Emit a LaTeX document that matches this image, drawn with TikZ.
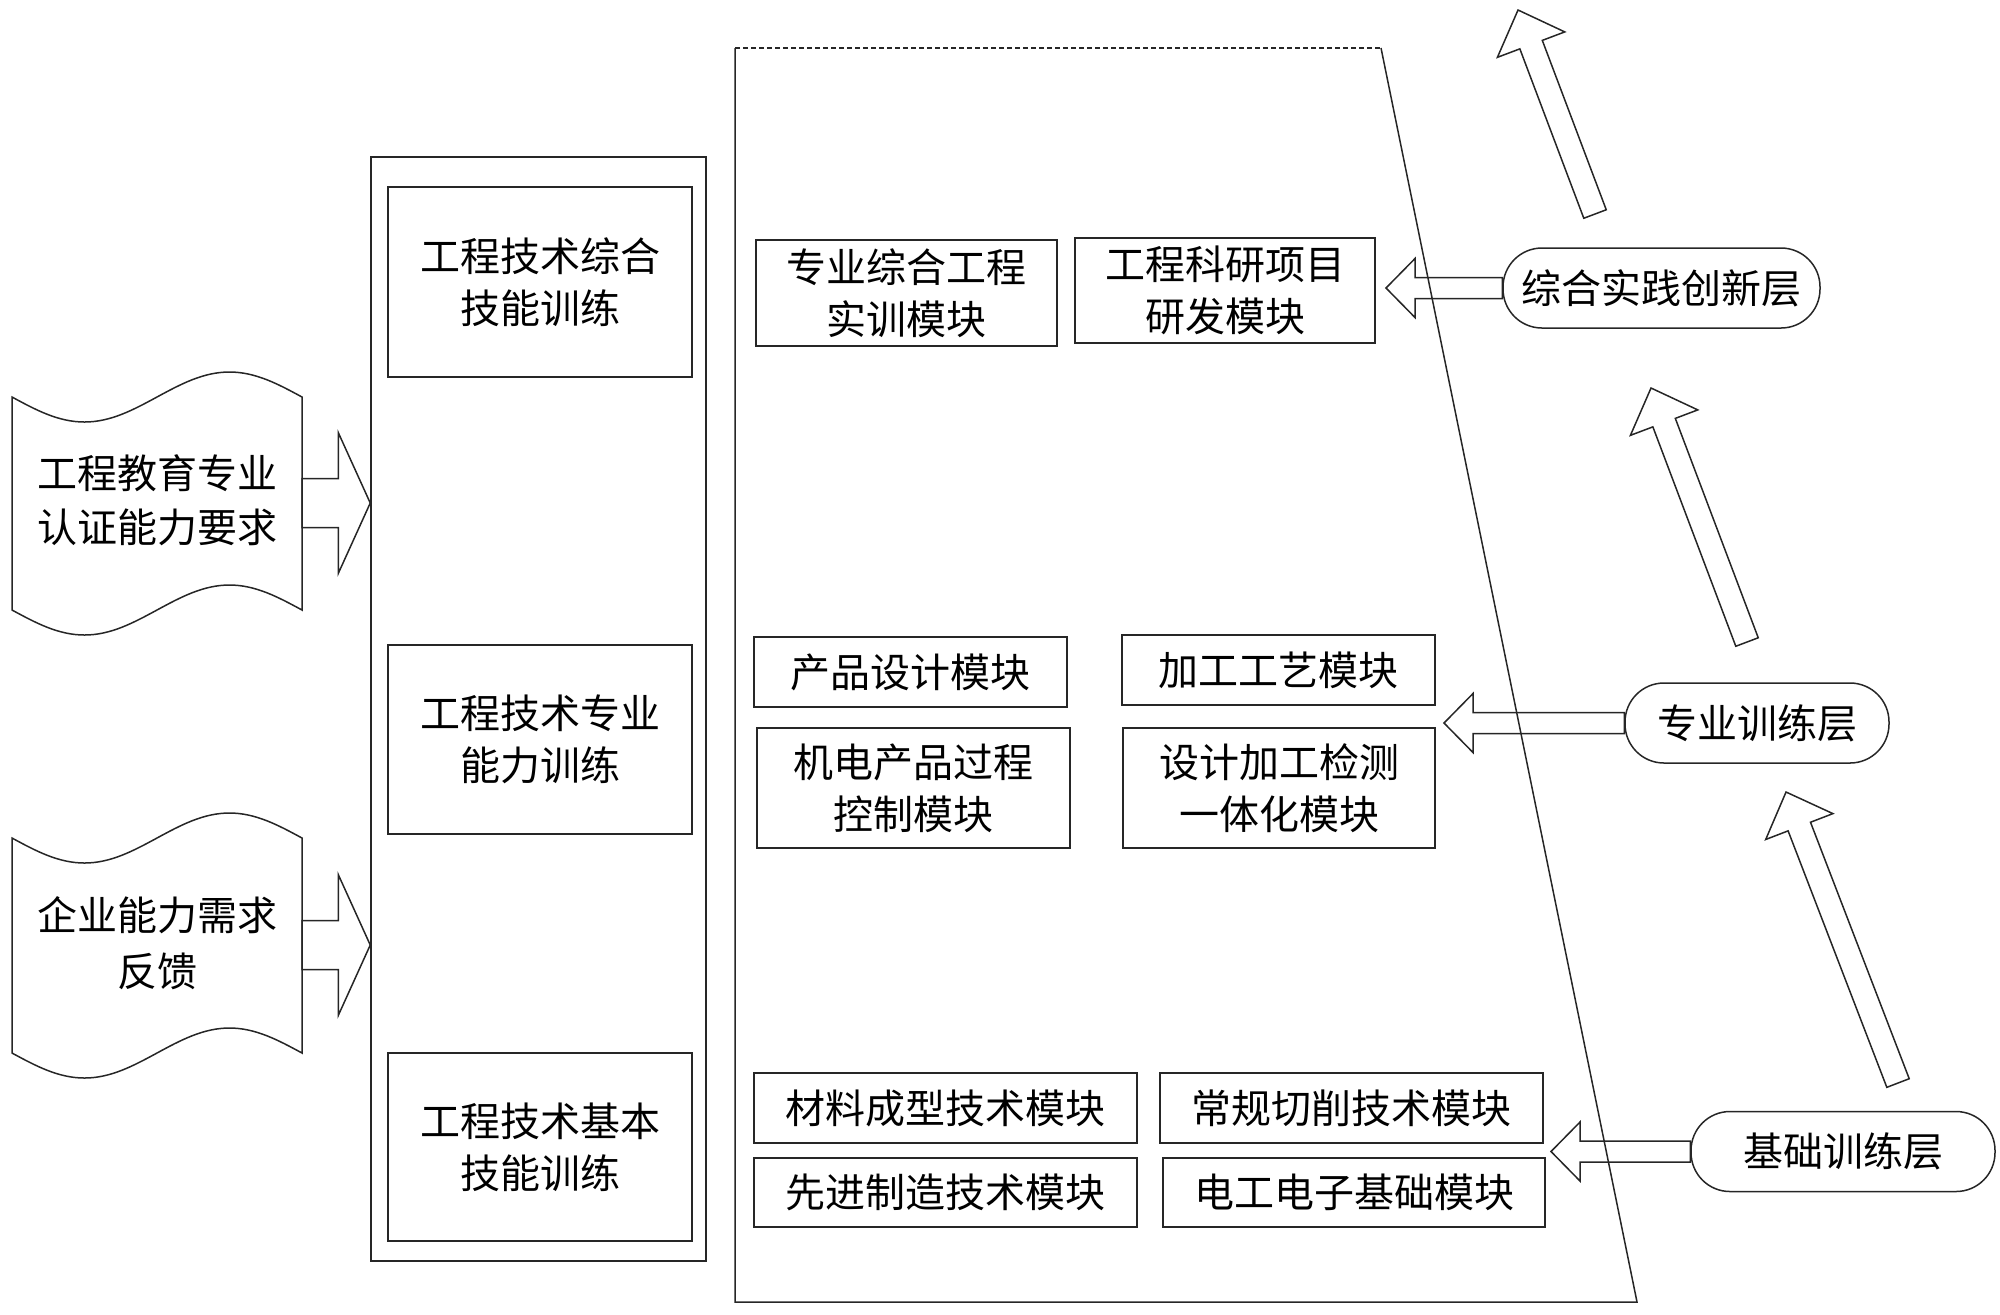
\documentclass[tikz,border=0pt]{standalone}
\usepackage{fontspec}
\newfontfamily\cjk{Noto Sans CJK SC}
\usetikzlibrary{calc}
\tikzset{
  ln/.style={line width=0.75pt, draw=black!85},
  txt/.style={font=\cjk\fontsize{20pt}{26pt}\selectfont, align=center, inner sep=0pt, text=black},
  box/.style={txt, ln, draw},
  stad/.style={txt, ln, draw, rounded corners=19.5pt, minimum height=40pt},
}
\newcommand{\blockarr}[5]{%
  \path coordinate (tmpB) at ($(#2)!#5!(#1)$);
  \draw[ln] ($(#1)!#3!90:(#2)$) -- ($(tmpB)!#3!90:(#2)$) -- ($(tmpB)!#4!90:(#2)$)
    -- (#2) -- ($(tmpB)!#4!-90:(#2)$) -- ($(tmpB)!#3!-90:(#2)$) -- ($(#1)!#3!-90:(#2)$) -- cycle;}
\begin{document}
\begin{tikzpicture}[x=0.5pt, y=-0.5pt]
\useasboundingbox (0,0) rectangle (2000,1314);

% document (tape) shapes
\draw[ln] (12,397) sin (84.5,422) cos (157,397) sin (229.5,372) cos (302,397)
  -- (302,610) sin (229.5,585) cos (157,610) sin (84.5,635) cos (12,610) -- cycle;
\node[txt, font=\cjk\fontsize{20pt}{27pt}\selectfont] (docA) at (157,500) {工程教育专业\\认证能力要求};
\coordinate (docAe) at (302,503);
\draw[ln] (12,838) sin (84.5,863) cos (157,838) sin (229.5,813) cos (302,838)
  -- (302,1053) sin (229.5,1028) cos (157,1053) sin (84.5,1078) cos (12,1053) -- cycle;
\node[txt, font=\cjk\fontsize{20pt}{28pt}\selectfont] (docB) at (157,943) {企业能力需求\\反馈};
\coordinate (docBe) at (302,945);

% left column frame and boxes
\node[ln, draw, minimum width=167.5pt, minimum height=552pt, inner sep=0pt] (frame) at (538.5,709) {};
\node[box, minimum width=152pt, minimum height=95pt] (b1) at (540,282) {工程技术综合\\技能训练};
\node[box, minimum width=152pt, minimum height=94.5pt] (b2) at (540,739.5) {工程技术专业\\能力训练};
\node[box, minimum width=152pt, minimum height=94pt] (b3) at (540,1147) {工程技术基本\\技能训练};

% right arrows from documents to frame
\coordinate (r1tip) at (frame.west |- docAe);
\coordinate (r2tip) at (frame.west |- docBe);
\blockarr{docAe}{r1tip}{12.25pt}{35.25pt}{16pt}
\blockarr{docBe}{r2tip}{12.25pt}{35.25pt}{16pt}

% trapezoid
\draw[ln, dash pattern=on 2.5pt off 1.5pt] (735,48) -- (1381,48);
\draw[ln] (1381,48) -- (1637,1302) -- (735,1302) -- (735,48);

% module boxes
\node[box, minimum width=150.5pt, minimum height=53pt] (m1) at (906.5,293) {专业综合工程\\实训模块};
\node[box, minimum width=150pt, minimum height=52.5pt] (m2) at (1225,290.5) {工程科研项目\\研发模块};
\node[box, minimum width=156.5pt, minimum height=35pt] (m3) at (910.5,672) {产品设计模块};
\node[box, minimum width=156.5pt, minimum height=35pt] (m4) at (1278.5,670) {加工工艺模块};
\node[box, minimum width=156.5pt, minimum height=60pt] (m5) at (913.5,788) {机电产品过程\\控制模块};
\node[box, minimum width=156pt, minimum height=60pt] (m6) at (1279,788) {设计加工检测\\一体化模块};
\node[box, minimum width=191.5pt, minimum height=35pt] (m7) at (945.5,1108) {材料成型技术模块};
\node[box, minimum width=191.5pt, minimum height=35pt] (m8) at (1351.5,1108) {常规切削技术模块};
\node[box, minimum width=191.5pt, minimum height=34.5pt] (m9) at (945.5,1192.5) {先进制造技术模块};
\node[box, minimum width=191pt, minimum height=34.5pt] (m10) at (1354,1192.5) {电工电子基础模块};

% layers
\node[stad, minimum width=158.5pt] (L1) at (1661.5,288) {综合实践创新层};
\node[stad, minimum width=132pt] (L2) at (1757,723) {专业训练层};
\node[stad, minimum width=152pt] (L3) at (1843,1151.5) {基础训练层};

% left-pointing arrows
\coordinate (q1tip) at (1386,288);
\coordinate (q2tip) at (1444,723);
\coordinate (q3tip) at (1551,1151.5);
\blockarr{L1.west}{q1tip}{5.25pt}{14.75pt}{14.5pt}
\blockarr{L2.west}{q2tip}{5.25pt}{14.75pt}{14.5pt}
\blockarr{L3.west}{q3tip}{5.25pt}{14.75pt}{14.5pt}

% diagonal upward arrows
\coordinate (aT) at (1595,214);  \coordinate (aP) at (1518,10);
\coordinate (bT) at (1747,642);  \coordinate (bP) at (1651,388);
\coordinate (cT) at (1898,1083); \coordinate (cP) at (1786,792);
\blockarr{aT}{aP}{6pt}{18pt}{18.5pt}
\blockarr{bT}{bP}{6pt}{18pt}{18.5pt}
\blockarr{cT}{cP}{6pt}{18pt}{18.5pt}
\end{tikzpicture}
\end{document}
